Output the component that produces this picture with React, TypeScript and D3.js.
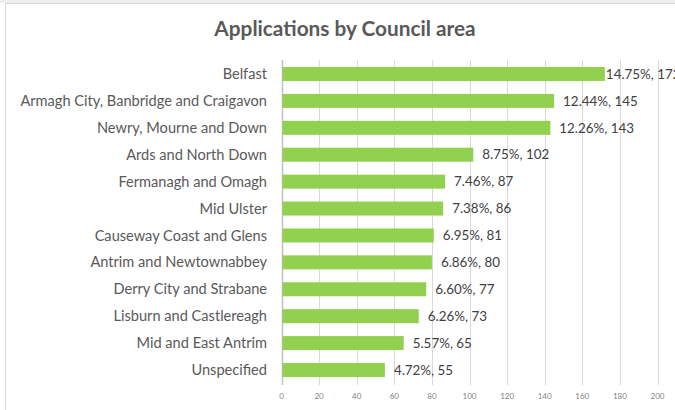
import React, { useEffect, useRef } from 'react';
import * as d3 from 'd3';

const councils = [
  'Belfast',
  'Armagh City, Banbridge and Craigavon',
  'Newry, Mourne and Down',
  'Ards and North Down',
  'Fermanagh and Omagh',
  'Mid Ulster',
  'Causeway Coast and Glens',
  'Antrim and Newtownabbey',
  'Derry City and Strabane',
  'Lisburn and Castlereagh',
  'Mid and East Antrim',
  'Unspecified',
];
const counts = [172, 145, 143, 102, 87, 86, 81, 80, 77, 73, 65, 55];
const shares = ['14.75%', '12.44%', '12.26%', '8.75%', '7.46%', '7.38%', '6.95%', '6.86%', '6.60%', '6.26%', '5.57%', '4.72%'];
const ticks = [0, 20, 40, 60, 80, 100, 120, 140, 160, 180, 200];

const App = () => {
  const svgRef = useRef<SVGSVGElement | null>(null);

  useEffect(() => {
    const width = 675;
    const height = 410;
    const svg = d3.select(svgRef.current);
    svg.selectAll('*').remove(); // Clear previous content

    const font = 'Lato, "Open Sans", sans-serif';

    // chart frame
    svg.append('rect').attr('x', 0).attr('y', 0).attr('width', width).attr('height', 3).attr('fill', '#eeeeee');
    svg.append('rect')
      .attr('x', 5.5).attr('y', 3.5)
      .attr('width', width + 10).attr('height', height + 10)
      .attr('fill', '#fff')
      .attr('stroke', '#d9d9d9');

    svg.append('text')
      .attr('x', 345)
      .attr('y', 36)
      .attr('text-anchor', 'middle')
      .attr('font-family', font)
      .attr('font-weight', 'bold')
      .attr('font-size', 20.8)
      .attr('fill', '#595959')
      .text('Applications by Council area');

    const x = d3.scaleLinear().domain([0, 200]).range([281.5, 657.5]);
    const y = d3.scaleBand()
      .domain(councils)
      .range([60, 384])
      .paddingInner(0.48)
      .paddingOuter(0.26);

    // gridlines
    svg.append('g')
      .selectAll('line')
      .data(ticks)
      .enter()
      .append('line')
      .attr('x1', (d) => Math.round(x(d)) + 0.5)
      .attr('x2', (d) => Math.round(x(d)) + 0.5)
      .attr('y1', 60)
      .attr('y2', 385)
      .attr('stroke', (d) => (d === 0 ? '#bfbfbf' : '#d9d9d9'))
      .attr('stroke-width', (d) => (d === 0 ? 1.5 : 1));

    svg.append('g')
      .selectAll('text')
      .data(ticks)
      .enter()
      .append('text')
      .attr('x', (d) => x(d))
      .attr('y', 399)
      .attr('text-anchor', 'middle')
      .attr('font-family', font)
      .attr('font-size', 8)
      .attr('fill', '#7f7f7f')
      .text((d) => d);

    const rows = councils.map((c, i) => ({ name: c, value: counts[i], share: shares[i] }));

    const g = svg.append('g');
    g.selectAll('rect')
      .data(rows)
      .enter()
      .append('rect')
      .attr('x', x(0) + 1)
      .attr('y', (d) => y(d.name)!)
      .attr('width', (d) => x(d.value) - x(0) - 1)
      .attr('height', y.bandwidth())
      .attr('fill', '#92d050');

    g.selectAll('text.cat')
      .data(rows)
      .enter()
      .append('text')
      .attr('class', 'cat')
      .attr('x', 267)
      .attr('y', (d) => y(d.name)! + y.bandwidth() / 2)
      .attr('dy', '0.35em')
      .attr('text-anchor', 'end')
      .attr('font-family', font)
      .attr('font-size', 14.6)
      .attr('fill', '#595959')
      .text((d) => d.name);

    // Excel pulls the longest label back against its bar so it fits
    g.selectAll('text.val')
      .data(rows)
      .enter()
      .append('text')
      .attr('class', 'val')
      .attr('x', (d) => x(d.value) + (d.value > 160 ? 1 : 9))
      .attr('y', (d) => y(d.name)! + y.bandwidth() / 2)
      .attr('dy', '0.35em')
      .attr('font-family', font)
      .attr('font-size', 13.4)
      .attr('fill', '#404040')
      .text((d) => `${d.share}, ${d.value}`);
  }, []);

  return (
    <svg
      ref={svgRef}
      width={675}
      height={410}
      style={{ position: 'absolute', left: 0, top: 0, background: '#fff' }}
    ></svg>
  );
};

export default App;
